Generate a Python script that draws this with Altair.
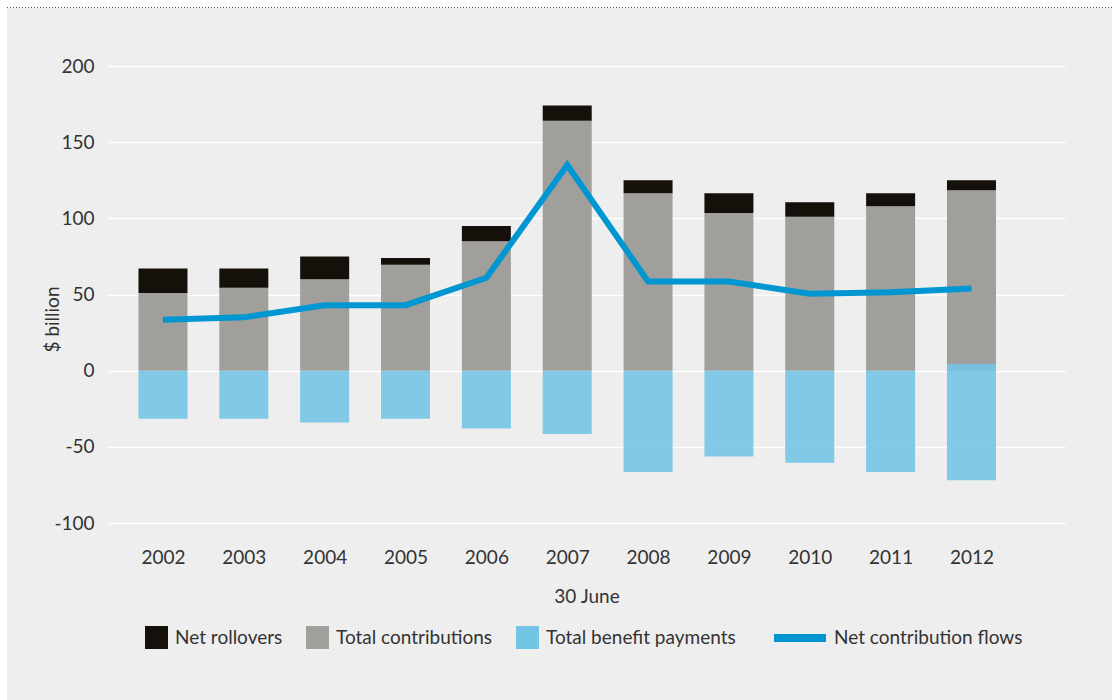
import altair as alt
import pandas as pd

years = [2002, 2003, 2004, 2005, 2006, 2007, 2008, 2009, 2010, 2011, 2012]
total_contributions = [51, 54.5, 60, 69.5, 85, 164, 116.5, 103.5, 101, 108, 118.5]
net_rollovers = [16, 12.5, 15, 4.5, 10, 10, 8.5, 13, 9.5, 8.5, 6.5]
benefit_top = [0, 0, 0, 0, 0, 0, 0, 0, 0, 0, 4.6]
total_benefit_payments = [-31.5, -31.5, -34, -31.5, -38, -41.5, -66.5, -56.3, -60.5, -66.5, -72]
net_contribution_flows = [33.5, 35, 43, 43, 61, 135, 58.5, 58.5, 50.5, 51.5, 54]

series_names = ["Net rollovers", "Total contributions", "Total benefit payments"]
series_colors = ["#15100a", "#a09f9b", "#74c4e5"]
line_name = "Net contribution flows"
line_color = "#0096d2"

rows = []
for i, yr in enumerate(years):
    rows.append({"year": yr, "series": "Total contributions", "lo": 0, "hi": total_contributions[i], "ord": 1})
    rows.append({"year": yr, "series": "Net rollovers", "lo": total_contributions[i],
                 "hi": total_contributions[i] + net_rollovers[i], "ord": 2})
for i, yr in enumerate(years):
    rows.append({"year": yr, "series": "Total benefit payments", "lo": benefit_top[i],
                 "hi": total_benefit_payments[i], "ord": 3})
bars_df = pd.DataFrame(rows)
line_df = pd.DataFrame({"year": years, "net": net_contribution_flows, "name": line_name})

FONT = "Lato"
TXT = "#333333"

xscale = alt.Scale(domain=[2001.382, 2013.095], nice=False, zero=False)
yscale = alt.Scale(domain=[-100, 200], nice=False)

bars = alt.Chart(bars_df).mark_bar(size=49).encode(
    x=alt.X("year:Q", scale=xscale,
            axis=alt.Axis(values=years, format="d", title="30 June", grid=False, ticks=False,
                          domain=False, labelPadding=25, titlePadding=20,
                          labelFontSize=19, titleFontSize=19, titleFontWeight="normal",
                          labelColor=TXT, titleColor=TXT, labelFont=FONT, titleFont=FONT)),
    y=alt.Y("lo:Q", scale=yscale,
            axis=alt.Axis(values=[-100, -50, 0, 50, 100, 150, 200], title="$ billion",
                          grid=True, gridColor="#ffffff", gridWidth=1.6, ticks=False, domain=False,
                          labelPadding=14, labelFontSize=19, titleFontSize=19,
                          titleFontWeight="normal", labelColor=TXT, titleColor=TXT,
                          labelFont=FONT, titleFont=FONT, titleAngle=270, titleX=-56, titleY=253,
                          titleBaseline="middle",
                          labelExpr="datum.value < 0 ? '-' + toString(-datum.value) : toString(datum.value)")),
    y2="hi:Q",
    color=alt.Color("series:N", scale=alt.Scale(domain=series_names, range=series_colors),
                    legend=alt.Legend(orient="none", legendX=37, legendY=560, direction="horizontal",
                                      title=None, symbolType="square", symbolSize=529,
                                      symbolStrokeWidth=0, symbolOpacity=1, labelFontSize=19,
                                      labelFont=FONT, labelColor=TXT, labelOffset=7,
                                      labelLimit=400, columnPadding=23)),
    opacity=alt.condition(alt.datum.series == "Total benefit payments", alt.value(0.9), alt.value(1)),
    order=alt.Order("ord:Q"),
)

line = alt.Chart(line_df).mark_line(strokeWidth=6).encode(
    x=alt.X("year:Q", scale=xscale),
    y=alt.Y("net:Q", scale=yscale),
    stroke=alt.Stroke("name:N", scale=alt.Scale(domain=[line_name], range=[line_color]),
                      legend=alt.Legend(orient="none", legendX=662, legendY=542, title=None,
                                        symbolType="stroke", symbolSize=2704, symbolStrokeWidth=8,
                                        labelFontSize=19, labelFont=FONT, labelColor=TXT,
                                        labelOffset=4, labelLimit=400)),
)

one = alt.Data(values=[{"a": 1}])
left_strip = alt.Chart(one).mark_rect(color="white").encode(
    x=alt.value(-108), x2=alt.value(-101), y=alt.value(-66), y2=alt.value(634))
top_strip = alt.Chart(one).mark_rect(color="white").encode(
    x=alt.value(-108), x2=alt.value(1010), y=alt.value(-66), y2=alt.value(-58))
right_strip = alt.Chart(one).mark_rect(color="white").encode(
    x=alt.value(1004), x2=alt.value(1010), y=alt.value(-66), y2=alt.value(634))
dotted = alt.Chart(one).mark_rule(color="#555555", strokeWidth=1, strokeDash=[1, 2]).encode(
    x=alt.value(-101), x2=alt.value(1004), y=alt.value(-58.5))

chart = alt.layer(bars, line, left_strip, top_strip, right_strip, dotted).resolve_scale(
    color="independent"
).properties(
    width=957, height=457,
    autosize=alt.AutoSizeParams(type="none"),
    padding={"left": 108, "top": 66, "right": 53, "bottom": 177},
    background="#eeeeee",
).configure_view(strokeWidth=0)

chart.save("out.html", embed_options={"renderer": "svg", "actions": False})
